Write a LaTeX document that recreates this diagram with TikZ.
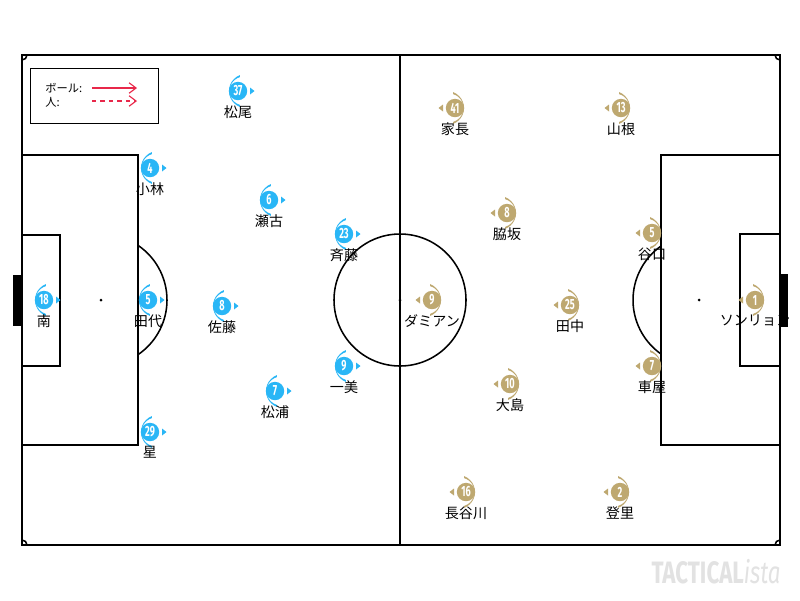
\documentclass[tikz,border=0pt]{standalone}
\usepackage{fontspec}
\setmainfont{Noto Sans CJK JP}
\newfontfamily\numfont[FakeStretch=0.62]{Fira Sans}
\newfontfamily\markfont[FakeStretch=0.72]{Fira Sans}
\usetikzlibrary{arrows.meta}
\definecolor{homeblue}{RGB}{41,182,246}
\definecolor{awaygold}{RGB}{190,168,112}
\definecolor{runred}{RGB}{232,40,74}
\definecolor{markgray}{RGB}{226,226,226}
\tikzset{pitch/.style={line width=1.1pt, black},
	kit/.style 2 args={
		circle,
		fill=#1,
		inner sep=0pt,
		minimum size=0.46cm,
		text=white,
		font=\numfont\bfseries\fontsize{10.5}{10.5}\selectfont,
		label distance=4pt,
		every label/.style={font=\fontsize{8}{9}\selectfont, inner sep=0pt, text=black!85},
		append after command={
			\pgfextra{
				\begin{pgfinterruptpath}
				\fill[#1] ([shift={({1.9*(#2)},15.87)}]\tikzlastnode.center)
					arc[start angle={90+21*(#2)}, delta angle={138*(#2)}, radius=17]
					-- ([shift={({1.9*(#2)},-13.9)}]\tikzlastnode.center)
					arc[start angle={270-16.4*(#2)}, delta angle={-147.2*(#2)}, radius=14.5] -- cycle;
				\fill[#1] ([shift={({12*(#2)},3.5)}]\tikzlastnode.center)
					-- ([shift={({16.5*(#2)},0)}]\tikzlastnode.center)
					-- ([shift={({12*(#2)},-3.5)}]\tikzlastnode.center) -- cycle;
				\end{pgfinterruptpath}
			}}},
	home/.style={kit={homeblue}{1}},
	away/.style={kit={awaygold}{-1}},
	run/.style={runred, line width=0.8pt, -{Straight Barb[length=5pt,width=7.5pt]}}}

\begin{document}
\begin{tikzpicture}[x=0.025cm, y=-0.025cm]
	\fill[white] (0,0) rectangle (800,600);
	\useasboundingbox (0,0) rectangle (800,600);
	
	\draw[pitch, line width=1.3pt] (22,55) rectangle (780,545);
	\draw[pitch] (400,55) -- (400,545);
	\draw[pitch] (400,300) circle[radius=66];
	\fill (400,300) circle[radius=1.5];
	\draw[pitch] (22,155) rectangle (138,445);
	\draw[pitch] (22,235) rectangle (60,366);
	\draw[pitch] (661,155) rectangle (780,445);
	\draw[pitch] (740,234) rectangle (780,366);
	\fill (101,300) circle[radius=1.5];
	\fill (699,300) circle[radius=1.5];
	\draw[pitch] (138,245.34) arc[start angle=-55.9, end angle=55.9, radius=66];
	\draw[pitch] (661,246.04) arc[start angle=234.85, end angle=125.15, radius=66];
	\fill (13,275) rectangle (22,326);
	\fill (780,274) rectangle (788,327);
	\draw[pitch] (27,55) arc[start angle=0, end angle=90, radius=5];
	\draw[pitch] (775,55) arc[start angle=180, end angle=90, radius=5];
	\draw[pitch] (27,545) arc[start angle=0, end angle=-90, radius=5];
	\draw[pitch] (775,545) arc[start angle=180, end angle=270, radius=5];
	
	\node[draw, line width=0.6pt, minimum width=3.2cm, minimum height=1.375cm] (legend) at (94,95.5) {};
	\node[anchor=west, font=\fontsize{8}{9}\selectfont, inner sep=0pt] (balltxt) at (45,88) {ボール:};
	\node[anchor=west, font=\fontsize{8}{9}\selectfont, inner sep=0pt] (mantxt) at (45,102) {人:};
	\coordinate (ballfrom) at (92,88);
	\coordinate (ballto) at (137,88);
	\coordinate (manfrom) at (92,101);
	\coordinate (manto) at (137,101);
	\draw[run] (ballfrom) -- (ballto);
	\draw[run, dashed] (manfrom) -- (manto);
	
	\node[home, label=below:松尾] (matsuo) at (238,91) {37};
	\node[home, label=below:小林] (kobayashi) at (150,168) {4};
	\node[home, label=below:瀬古] (seko) at (269,200) {6};
	\node[home, label=below:斉藤] (saito) at (344,234) {23};
	\node[home, label=below:南] (minami) at (44,300) {18};
	\node[home, label=below:田代] (tashiro) at (148,300) {5};
	\node[home, label=below:佐藤] (sato) at (222,306) {8};
	\node[home, label=below:一美] (ichimi) at (344,366) {9};
	\node[home, label=below:松浦] (matsuura) at (275,391) {7};
	\node[home, label=below:星] (hoshi) at (150,432) {29};
	
	\node[away, label=below:家長] (ienaga) at (455,108) {41};
	\node[away, label=below:山根] (yamane) at (621,108) {13};
	\node[away, label=below:脇坂] (wakizaka) at (507,213) {8};
	\node[away, label=below:谷口] (taniguchi) at (652,233) {5};
	\node[away, label=below:ダミアン] (damiao) at (432,300) {9};
	\node[away, label=below:田中] (tanaka) at (570,305) {25};
	\node[away, label=below:ソンリョン] (sungryong) at (755,300) {1};
	\node[away, label=below:大島] (oshima) at (510,384) {10};
	\node[away, label=below:車屋] (kurumaya) at (652,366) {7};
	\node[away, label=below:長谷川] (hasegawa) at (466,492) {16};
	\node[away, label=below:登里] (noborizato) at (620,492) {2};
	
	\node[text=markgray, font=\markfont\fontsize{22}{22}\selectfont] (brand) at (716,572) {\bfseries TACTICAL\mdseries\itshape ista};
\end{tikzpicture}
\end{document}
